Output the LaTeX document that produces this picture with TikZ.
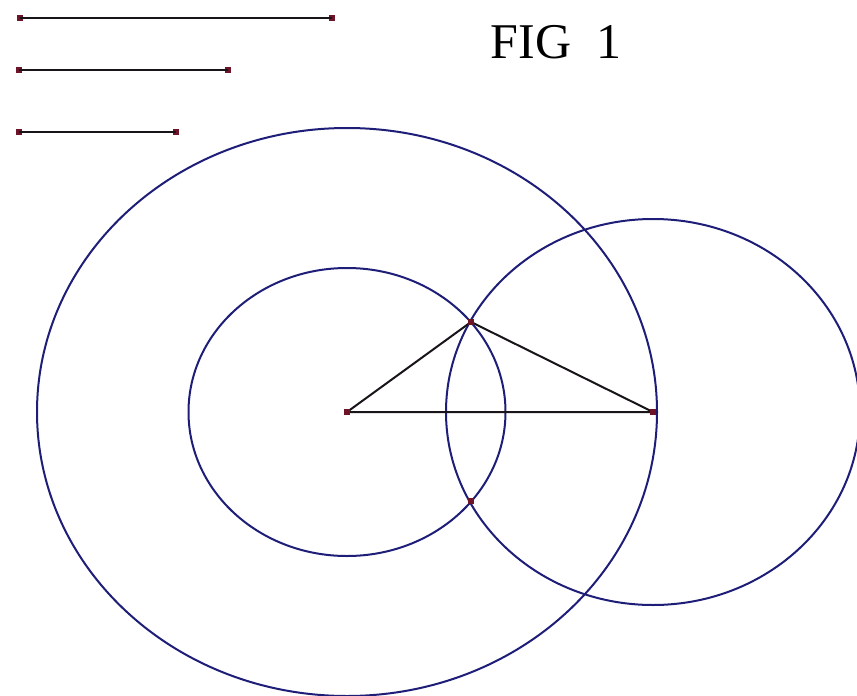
\documentclass[tikz,border=0pt]{standalone}
\usepackage{fontspec}
\setmainfont{Liberation Serif}
\begin{document}
\begin{tikzpicture}[x=1pt,y=-1pt,
  circ/.style={draw={rgb,255:red,30;green,30;blue,120}, line width=2pt},
  seg/.style={draw={rgb,255:red,25;green,20;blue,25}, line width=2pt},
  pt/.style={fill={rgb,255:red,110;green,20;blue,40}, draw=none, minimum size=6pt, inner sep=0pt, rectangle}]
\useasboundingbox (0,0) rectangle (857,696);
\clip (0,0) rectangle (857,696);
% reference segments
\node[pt] (a1) at (20,17.5) {};
\node[pt] (a2) at (332,17.5) {};
\node[pt] (b1) at (19,70) {};
\node[pt] (b2) at (228,70) {};
\node[pt] (c1) at (19,132) {};
\node[pt] (c2) at (176,132) {};
\draw[seg] (a1.center) -- (a2.center);
\draw[seg] (b1.center) -- (b2.center);
\draw[seg] (c1.center) -- (c2.center);
% title
\node[font=\fontsize{50}{50}\selectfont, inner sep=0pt] (title) at (556,42) {FIG\hspace{0.5em}1};
% circles
\coordinate (O) at (347,412);
\coordinate (R) at (653,412);
\draw[circ] (O) ellipse [x radius=310, y radius=284];
\draw[circ] (O) ellipse [x radius=158.5, y radius=144];
\draw[circ] (R) ellipse [x radius=207, y radius=193];
% triangle
\coordinate (P) at (471,322);
\coordinate (Q) at (471,501);
\draw[seg] (O) -- (P) -- (R) -- (O);
\node[pt] (o) at (O) {};
\node[pt] (r) at (R) {};
\node[pt] (p) at (P) {};
\node[pt] (q) at (Q) {};
\end{tikzpicture}
\end{document}
